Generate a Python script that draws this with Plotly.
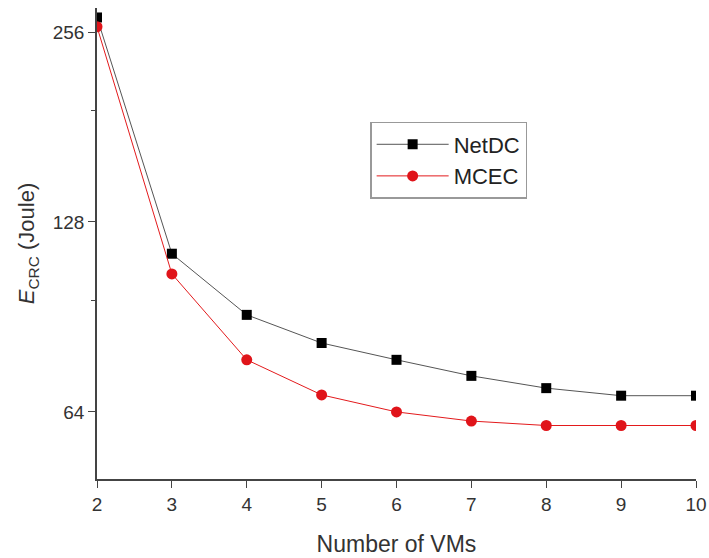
import plotly.graph_objects as go
import math

vms = [2, 3, 4, 5, 6, 7, 8, 9, 10]
netdc = [270, 114, 91.2, 82.3, 77.4, 73.0, 69.8, 67.9, 67.9]
mcec = [261, 105.9, 77.4, 68.1, 64.0, 61.9, 60.9, 60.9, 60.9]
y_ticks = [64, 128, 256]
y_minor = [96, 192]
x_ticks = [2, 3, 4, 5, 6, 7, 8, 9, 10]

fig = go.Figure()
fig.add_trace(go.Scatter(x=vms, y=netdc, name="NetDC", mode="lines+markers",
                         line=dict(color="#555555", width=1),
                         marker=dict(symbol="square", size=10, color="black")))
fig.add_trace(go.Scatter(x=vms, y=mcec, name="MCEC", mode="lines+markers",
                         line=dict(color="#e31a1c", width=1),
                         marker=dict(symbol="circle", size=11, color="#e0141a")))

fig.update_layout(
    width=709, height=558,
    margin=dict(l=97, r=13, t=8, b=79, autoexpand=False),
    paper_bgcolor="white", plot_bgcolor="white",
    font=dict(family="Liberation Sans, Arial, sans-serif", color="#333333"),
    showlegend=True,
    legend=dict(x=0.456, y=0.758, xanchor="left", yanchor="top",
                bordercolor="#999999", borderwidth=1.5,
                font=dict(size=22, color="#222222"),
                itemwidth=72, tracegroupgap=0),
    xaxis=dict(range=[2, 10], tickvals=x_ticks, showline=True, linecolor="#444444",
               linewidth=1.5, ticks="outside", ticklen=7, tickcolor="#444444",
               showgrid=False, zeroline=False, tickfont=dict(size=19), automargin=False,
               title=dict(text="Number of VMs", font=dict(size=23), standoff=22)),
    yaxis=dict(type="log", range=[math.log10(50.1), math.log10(279.5)],
               tickvals=y_ticks, ticktext=[str(v) for v in y_ticks],
               showline=True, linecolor="#444444", linewidth=1.5,
               ticks="outside", ticklen=7, tickcolor="#444444", automargin=False,
               showgrid=False, zeroline=False, tickfont=dict(size=19),
               minor=dict(tickvals=y_minor, ticks="outside", ticklen=4, tickcolor="#444444"),
               title=dict(text="<i>E</i><sub>CRC</sub> (Joule)", font=dict(size=22), standoff=12)),
)

fig.write_html("out.html")
